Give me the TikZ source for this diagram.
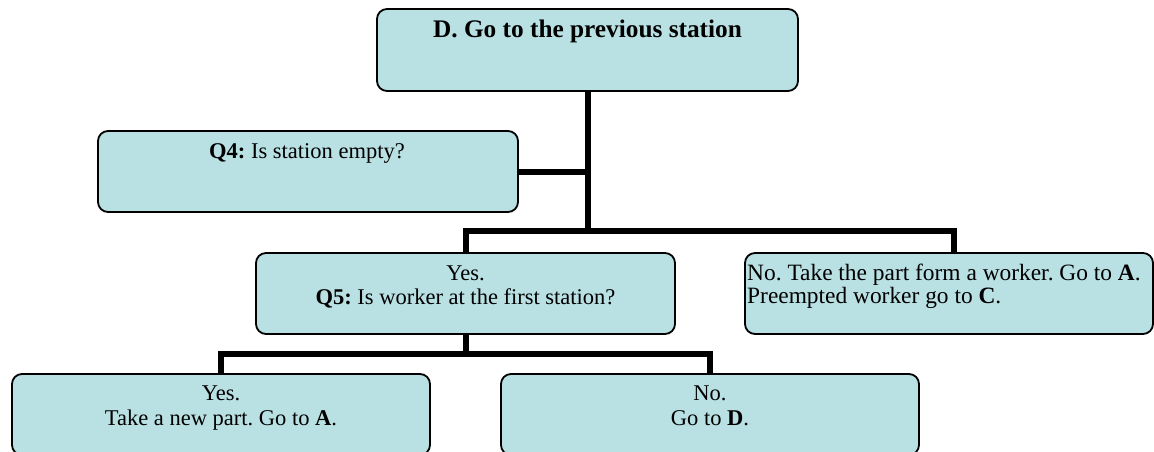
\documentclass[tikz,border=0pt]{standalone}
\usepackage{fontspec}
\setmainfont{Liberation Serif}
\usetikzlibrary{backgrounds}
\definecolor{boxfill}{RGB}{185,224,227}
\frenchspacing
\begin{document}
\begin{tikzpicture}[x=1pt,y=-1pt,
  box/.style={draw=black, line width=1.8pt, rounded corners=10pt, fill=boxfill,
              inner sep=0pt, minimum height=81pt},
  conn/.style={draw=black, line width=6pt, line join=miter},
  txt/.style={inner sep=0pt, font=\fontsize{22.5}{24.5}\selectfont},
  txtbig/.style={inner sep=0pt, font=\fontsize{23.4}{25}\selectfont},
  title/.style={inner sep=0pt, font=\fontsize{25.3}{28}\selectfont\bfseries}]
\useasboundingbox (0,0) rectangle (1154,452);
\clip (0,0) rectangle (1154,452);

% boxes (shapes only; their texts are placed below)
\path
  (587.5,50)    node[box, minimum width=421pt, minimum height=82pt] (top) {}
  (308,171.5)   node[box, minimum width=420pt] (q4) {}
  (465.5,293.5) node[box, minimum width=419pt] (q5) {}
  (949,293.5)   node[box, minimum width=408pt] (no) {}
  (221,414.5)   node[box, minimum width=418pt] (yes2) {}
  (710,414.5)   node[box, minimum width=418pt] (no2) {};

% junctions of the tree
\coordinate (j1) at (589,231);
\coordinate (j2) at (465.5,354);

% connectors, behind the boxes
\begin{pgfonlayer}{background}
\draw[conn] (top.south) -- (top.south |- j1);
\draw[conn] (q4.east) -- (q4.east -| j1);
\draw[conn] (q5.north) -- (q5.north |- j1) -- ([xshift=5pt]no.north |- j1) -- ([xshift=5pt]no.north);
\draw[conn] (q5.south) -- (j2);
\draw[conn] (yes2.north) -- (yes2.north |- j2) -- (no2.north |- j2) -- (no2.north);
\end{pgfonlayer}

% texts
\node[title, anchor=base] (ttop) at (587.5,38) {D. Go to the previous station};
\node[txt, anchor=base] (tq4) at (307,158) {\textbf{Q4:} Is station empty?};
\node[txt, anchor=base] (tq5a) at (465.5,280) {Yes.};
\node[txt, anchor=base] (tq5b) at (465.5,304) {\textbf{Q5:} Is worker at the first station?};
\node[txtbig, anchor=base west] (tnoa) at (747,280) {No. Take the part form a worker. Go to \textbf{A}.};
\node[txtbig, anchor=base west] (tnob) at (747,303) {Preempted worker go to \textbf{C}.};
\node[txt, anchor=base] (tya) at (221,400) {Yes.};
\node[txt, anchor=base] (tyb) at (221,425) {Take a new part. Go to \textbf{A}.};
\node[txt, anchor=base] (tna) at (710,400) {No.};
\node[txt, anchor=base] (tnb) at (710,425) {Go to \textbf{D}.};
\end{tikzpicture}
\end{document}
